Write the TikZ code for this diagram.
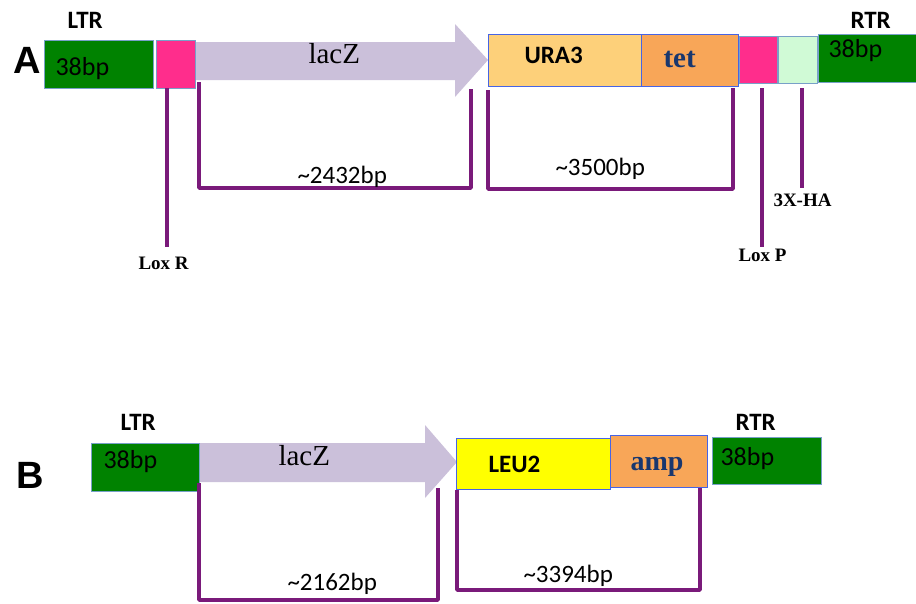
\documentclass[tikz,border=0pt]{standalone}
\usepackage{fontspec}
\setmainfont{Liberation Serif}
\newfontfamily\calibri{Carlito}
\newfontfamily\arial{Liberation Sans}
\usepackage{tikz}
\usetikzlibrary{positioning}

\definecolor{ltrgreen}{RGB}{0,130,0}
\definecolor{loxpink}{RGB}{255,45,140}
\definecolor{laczpurple}{RGB}{203,192,218}
\definecolor{uraorange}{RGB}{253,208,122}
\definecolor{tetorange}{RGB}{248,166,88}
\definecolor{hagreen}{RGB}{208,250,214}
\definecolor{leuyellow}{RGB}{255,255,0}
\definecolor{markerpurple}{RGB}{122,26,122}
\definecolor{edgeblue}{RGB}{70,100,230}
\definecolor{edgegray}{RGB}{120,160,200}
\definecolor{textblue}{RGB}{25,55,110}

\begin{document}
\begin{tikzpicture}[x=1pt, y=-1pt, line width=1pt,
    box/.style={draw=edgegray, line width=0.8pt, anchor=north west, inner sep=0pt},
    genebox/.style={box, draw=edgeblue},
    purpleline/.style={draw=markerpurple, line width=3.5pt, line join=round},
    txt/.style={anchor=base west, inner sep=0pt}]
    \useasboundingbox (0,0) rectangle (916,603);

    % ---------------- panel A ----------------
    % draw lacZ arrow
    \fill[laczpurple] (195,42) -- (455,42) -- (455,24) -- (488,60) -- (455,97) -- (455,80) -- (195,80) -- cycle;

    % draw boxes
    \node[box, fill=ltrgreen, minimum width=109pt, minimum height=48pt] (ltrA) at (44,40) {};
    \node[box, fill=loxpink, minimum width=39pt, minimum height=48pt] (loxRA) at (156,40) {};
    \node[genebox, fill=uraorange, minimum width=153pt, minimum height=52pt] (uraA) at (488,34) {};
    \node[genebox, fill=tetorange, minimum width=97pt, minimum height=52pt] (tetA) at (641,34) {};
    \node[box, fill=loxpink, minimum width=38pt, minimum height=47pt] (loxPA) at (739,36) {};
    \node[box, fill=hagreen, minimum width=39pt, minimum height=47pt] (haA) at (778,36) {};
    \node[box, fill=ltrgreen, minimum width=100pt, minimum height=48pt] (rtrA) at (818,34) {};

    % draw texts
    \node[txt, font=\arial\bfseries\fontsize{38}{38}\selectfont] (labA) at (13,73) {A};
    \node[txt, font=\calibri\bfseries\fontsize{25}{25}\selectfont] (ltrlabA) at (67,28) {LTR};
    \node[txt, font=\calibri\bfseries\fontsize{25}{25}\selectfont] (rtrlabA) at (850,28) {RTR};
    \node[txt, font=\calibri\fontsize{26}{26}\selectfont] (ltrbpA) at (55,75) {38bp};
    \node[txt, font=\calibri\fontsize{26}{26}\selectfont] (rtrbpA) at (828,57) {38bp};
    \node[txt, font=\fontsize{29}{29}\selectfont] (laczA) at (308,63) {lacZ};
    \node[txt, font=\calibri\bfseries\fontsize{25}{25}\selectfont] (uralab) at (524,63) {URA3};
    \node[txt, font=\bfseries\fontsize{29}{29}\selectfont, text=textblue] (tetlab) at (663,67) {tet};

    % draw markers
    \coordinate (loxRtop) at (167,88);
    \coordinate (loxRbot) at (167,247);
    \coordinate (loxPtop) at (762,88);
    \coordinate (loxPbot) at (762,247);
    \coordinate (hatop) at (802,88);
    \coordinate (habot) at (802,188);
    \draw[purpleline] (loxRtop) -- (loxRbot);
    \draw[purpleline] (loxPtop) -- (loxPbot);
    \draw[purpleline] (hatop) -- (habot);
    \node[txt, font=\bfseries\fontsize{19}{19}\selectfont] (loxRlab) at (138,269) {Lox R};
    \node[txt, font=\bfseries\fontsize{19}{19}\selectfont] (loxPlab) at (738,261) {Lox P};
    \node[txt, font=\bfseries\fontsize{19}{19}\selectfont] (halab) at (773,206) {3X-HA};

    % draw brackets
    \coordinate (brA1) at (199,82);
    \coordinate (brA2) at (471,89);
    \coordinate (brA3) at (488,90);
    \coordinate (brA4) at (733,88);
    \draw[purpleline] (brA1) |- (471,188) -- (brA2);
    \draw[purpleline] (brA3) |- (733,189) -- (brA4);
    \node[txt, font=\calibri\fontsize{25}{25}\selectfont] (sizeA1) at (297,183) {\textasciitilde2432bp};
    \node[txt, font=\calibri\fontsize{25}{25}\selectfont] (sizeA2) at (555,175) {\textasciitilde3500bp};

    % ---------------- panel B ----------------
    % draw lacZ arrow
    \fill[laczpurple] (199,443) -- (425,443) -- (425,425) -- (457,462) -- (425,498) -- (425,482) -- (199,482) -- cycle;

    % draw boxes
    \node[box, fill=ltrgreen, minimum width=108pt, minimum height=48pt] (ltrB) at (91,443) {};
    \node[genebox, fill=leuyellow, minimum width=154pt, minimum height=51pt] (leuB) at (456,438) {};
    \node[genebox, fill=tetorange, minimum width=97pt, minimum height=52pt] (ampB) at (610,435) {};
    \node[box, fill=ltrgreen, minimum width=109pt, minimum height=47pt] (rtrB) at (712,437) {};

    % draw texts
    \node[txt, font=\arial\bfseries\fontsize{38}{38}\selectfont] (labB) at (16,488) {B};
    \node[txt, font=\calibri\bfseries\fontsize{25}{25}\selectfont] (ltrlabB) at (120,430) {LTR};
    \node[txt, font=\calibri\bfseries\fontsize{25}{25}\selectfont] (rtrlabB) at (735,430) {RTR};
    \node[txt, font=\calibri\fontsize{26}{26}\selectfont] (ltrbpB) at (103,468) {38bp};
    \node[txt, font=\calibri\fontsize{26}{26}\selectfont] (rtrbpB) at (720,465) {38bp};
    \node[txt, font=\fontsize{29}{29}\selectfont] (laczB) at (278,465) {lacZ};
    \node[txt, font=\calibri\bfseries\fontsize{25}{25}\selectfont] (leulab) at (488,472) {LEU2};
    \node[txt, font=\bfseries\fontsize{28}{28}\selectfont, text=textblue] (amplab) at (630,470) {amp};

    % draw brackets
    \coordinate (brB1) at (199,483);
    \coordinate (brB2) at (438,488);
    \coordinate (brB3) at (457,490);
    \coordinate (brB4) at (700,488);
    \draw[purpleline] (brB1) |- (438,600) -- (brB2);
    \draw[purpleline] (brB3) |- (700,590) -- (brB4);
    \node[txt, font=\calibri\fontsize{25}{25}\selectfont] (sizeB1) at (287,590) {\textasciitilde2162bp};
    \node[txt, font=\calibri\fontsize{25}{25}\selectfont] (sizeB2) at (523,582) {\textasciitilde3394bp};

\end{tikzpicture}
\end{document}
